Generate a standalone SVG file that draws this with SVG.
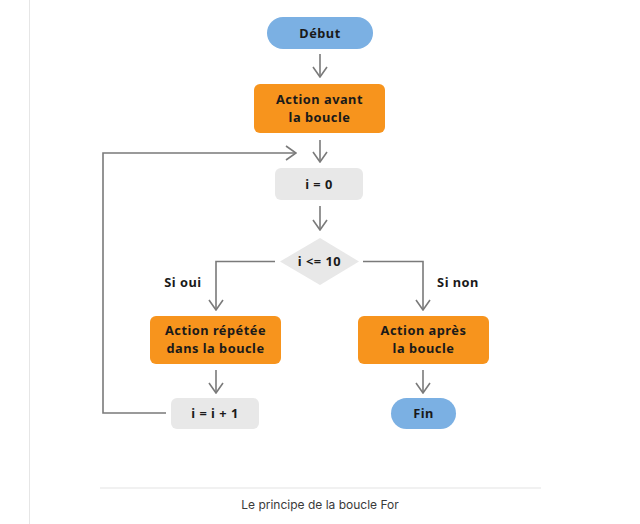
<svg xmlns="http://www.w3.org/2000/svg" width="640" height="524" viewBox="0 0 640 524">
<style>
.lbl{font-family:"Noto Sans","DejaVu Sans",sans-serif;font-weight:700;font-size:12.8px;letter-spacing:0.5px;fill:#1a1a1a;text-anchor:middle}
.con{fill:none;stroke:#7a7a7a;stroke-width:1.6}
.orange{fill:#f7941d}
.blue{fill:#7bb0e3}
.grey{fill:#e8e8e8}
.cap{font-family:"Inter","Liberation Sans",sans-serif;font-size:12px;fill:#3a3a3a;text-anchor:middle}
</style>
<defs>
<marker id="ah" viewBox="0 0 12 16" refX="11" refY="8" markerWidth="12" markerHeight="16" markerUnits="userSpaceOnUse" orient="auto">
<path d="M1,1 L11,8 L1,15" fill="none" stroke="#7a7a7a" stroke-width="1.6"/>
</marker>
</defs>
<rect x="0" y="0" width="640" height="524" fill="#fff"/>
<line x1="29.5" y1="0" x2="29.5" y2="524" stroke="#e6e6e6" stroke-width="1"/>
<g id="connectors">
<line class="con" x1="320" y1="54" x2="320" y2="77" marker-end="url(#ah)"/>
<line class="con" x1="320" y1="140" x2="320" y2="162" marker-end="url(#ah)"/>
<line class="con" x1="320" y1="206" x2="320" y2="230" marker-end="url(#ah)"/>
<polyline class="con" points="275,261.5 216,261.5 216,310" marker-end="url(#ah)"/>
<polyline class="con" points="363,261.5 423,261.5 423,310" marker-end="url(#ah)"/>
<line class="con" x1="216" y1="370" x2="216" y2="393" marker-end="url(#ah)"/>
<line class="con" x1="423" y1="370" x2="423" y2="393" marker-end="url(#ah)"/>
<polyline class="con" points="166,413 103,413 103,153 296,153" marker-end="url(#ah)"/>
<text class="lbl" x="183" y="287">Si oui</text>
<text class="lbl" x="458" y="287">Si non</text>
</g>
<g id="debut">
<rect class="blue" x="267" y="17" width="106" height="32" rx="16"/>
<text class="lbl" x="320" y="37.5">Début</text>
</g>
<g id="action-avant">
<rect class="orange" x="254" y="84" width="131" height="49" rx="6"/>
<text class="lbl" x="319.5" y="104">Action avant</text>
<text class="lbl" x="319.5" y="121.5">la boucle</text>
</g>
<g id="init">
<rect class="grey" x="275" y="168" width="88" height="32" rx="6"/>
<text class="lbl" x="319" y="188.5">i = 0</text>
</g>
<g id="condition">
<polygon class="grey" points="320,238 359,261.5 320,285 280,261.5"/>
<text class="lbl" x="319.5" y="266">i &lt;= 10</text>
</g>
<g id="action-repetee">
<rect class="orange" x="150" y="316" width="131" height="48" rx="6"/>
<text class="lbl" x="215.5" y="335">Action répétée</text>
<text class="lbl" x="215.5" y="352.5">dans la boucle</text>
</g>
<g id="action-apres">
<rect class="orange" x="358" y="316" width="131" height="48" rx="6"/>
<text class="lbl" x="423.5" y="335">Action après</text>
<text class="lbl" x="423.5" y="352.5">la boucle</text>
</g>
<g id="increment">
<rect class="grey" x="171" y="398" width="88" height="31" rx="6"/>
<text class="lbl" x="215" y="418">i = i + 1</text>
</g>
<g id="fin">
<rect class="blue" x="391" y="398" width="65" height="31" rx="15.5"/>
<text class="lbl" x="423.5" y="418">Fin</text>
</g>
<line x1="100" y1="488" x2="541" y2="488" stroke="#e3e3e3" stroke-width="1"/>
<text class="cap" x="320" y="509">Le principe de la boucle For</text>
</svg>
